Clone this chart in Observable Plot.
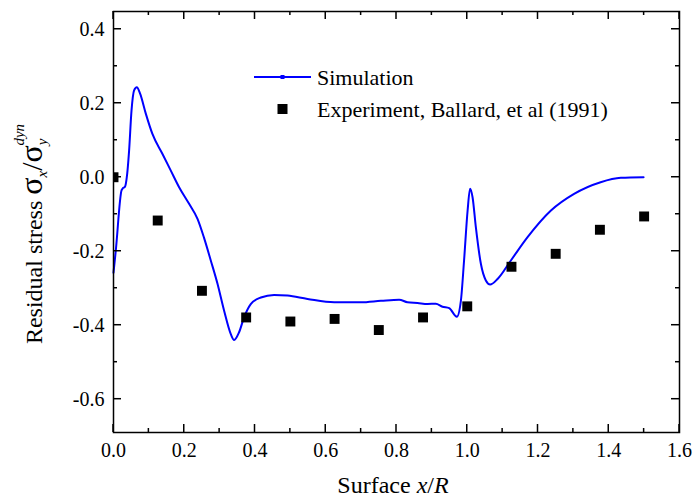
<!DOCTYPE html>
<html>
<head>
<meta charset="utf-8">
<script src="https://cdn.jsdelivr.net/npm/d3@7"></script>
<script src="https://cdn.jsdelivr.net/npm/@observablehq/plot@0.6"></script>
<style>
  html, body { margin: 0; padding: 0; background: #fff; }
  #chart { width: 694px; height: 499px; }
</style>
</head>
<body>
<div id="chart"></div>
<script>
// ---------- data ----------
const simX = [0.0, 0.0065, 0.0226, 0.0254, 0.0328, 0.0376, 0.0396, 0.0441, 0.0509, 0.0582, 0.0659, 0.0752, 0.0913, 0.110, 0.1385, 0.162, 0.1855, 0.2137, 0.2375, 0.256, 0.275, 0.294, 0.3127, 0.3316, 0.341, 0.355, 0.369, 0.388, 0.4165, 0.454, 0.492, 0.5485, 0.624, 0.699, 0.756, 0.8075, 0.831, 0.8595, 0.888, 0.911, 0.930, 0.949, 0.9706, 0.982, 0.991, 1.001, 1.008, 1.015, 1.0243, 1.0385, 1.0526, 1.0647, 1.0857, 1.1233, 1.1705, 1.2366, 1.302, 1.377, 1.4343, 1.4985];
const simY = [-0.258, -0.198, -0.036, -0.031, -0.025, 0.0, 0.018, 0.072, 0.18, 0.235, 0.2435, 0.226, 0.172, 0.117, 0.063, 0.018, -0.027, -0.072, -0.1126, -0.164, -0.225, -0.288, -0.361, -0.424, -0.44, -0.419, -0.379, -0.343, -0.325, -0.318, -0.320, -0.329, -0.338, -0.338, -0.334, -0.331, -0.338, -0.340, -0.3425, -0.342, -0.350, -0.354, -0.377, -0.334, -0.225, -0.090, -0.031, -0.054, -0.135, -0.234, -0.279, -0.290, -0.275, -0.225, -0.162, -0.090, -0.045, -0.0135, -0.0016, 0.0];

const expX = [0.0, 0.125, 0.25, 0.375, 0.5, 0.625, 0.75, 0.875, 1.0, 1.125, 1.25, 1.375, 1.5];
const expY = [0.0, -0.117, -0.307, -0.379, -0.390, -0.383, -0.413, -0.379, -0.349, -0.242, -0.207, -0.142, -0.106];

const xMajorTicks = [0.0, 0.2, 0.4, 0.6, 0.8, 1.0, 1.2, 1.4, 1.6];
const xMinorTicks = [0.1, 0.3, 0.5, 0.7, 0.9, 1.1, 1.3, 1.5];
const yMajorTicks = [-0.6, -0.4, -0.2, 0.0, 0.2, 0.4];
const yMinorTicks = [-0.5, -0.3, -0.1, 0.1, 0.3];

const seriesNames = ["Simulation", "Experiment, Ballard, et al (1991)"];

(function () {
// ---------- tables ----------
const sim = simX.map((x, i) => ({x, y: simY[i]}));
const exp = expX.map((x, i) => ({x, y: expY[i]}));

const FONT = "'Liberation Serif', 'Times New Roman', serif";
const fmt = d => d.toFixed(1);

const chart = Plot.plot({
  width: 694,
  height: 499,
  marginLeft: 113,
  marginRight: 15,
  marginTop: 11,
  marginBottom: 67,
  style: {fontSize: "20px", background: "#fff", color: "#000", overflow: "visible"},
  x: {domain: [0, 1.6]},
  y: {domain: [-0.69, 0.448]},
  marks: [
    Plot.axisX(xMajorTicks, {tickSize: 0, tickPadding: 10, tickFormat: fmt, label: null, fontSize: 20}),
    Plot.axisY(yMajorTicks, {tickSize: 0, tickPadding: 9, tickFormat: fmt, label: null, fontSize: 20}),
    Plot.line(sim, {x: "x", y: "y", stroke: "#0000ff", strokeWidth: 2, curve: "monotone-x"}),
    Plot.dot(exp, {x: "x", y: "y", symbol: "square", r: 5.6, fill: "#000", stroke: "none", clip: "frame"}),
    Plot.frame({stroke: "#000", strokeWidth: 1.5})
  ]
});

document.getElementById("chart").appendChild(chart);

const svg = d3.select(chart);
svg.attr("font-family", FONT).style("font-family", FONT);
svg.selectAll("g, text").attr("font-family", FONT).style("font-family", FONT);

// ---------- inward ticks on all four sides, via the plot's scales ----------
const sx = chart.scale("x"), sy = chart.scale("y");
const fL = 113, fR = 694 - 15, fT = 11, fB = 499 - 67;
const g = svg.append("g").attr("stroke", "#000").attr("stroke-width", 1.5);
function xt(vals, len) {
  vals.forEach(v => {
    const px = sx.apply(v);
    g.append("line").attr("x1", px).attr("x2", px).attr("y1", fB).attr("y2", fB - len);
    g.append("line").attr("x1", px).attr("x2", px).attr("y1", fT).attr("y2", fT + len);
  });
}
function yt(vals, len) {
  vals.forEach(v => {
    const py = sy.apply(v);
    g.append("line").attr("y1", py).attr("y2", py).attr("x1", fL).attr("x2", fL + len);
    g.append("line").attr("y1", py).attr("y2", py).attr("x1", fR).attr("x2", fR - len);
  });
}
xt(xMajorTicks, 8); xt(xMinorTicks, 4);
yt(yMajorTicks, 8); yt(yMinorTicks, 4);

// ---------- axis titles ----------
const xTitle = svg.append("text")
  .attr("x", 393).attr("y", 493)
  .attr("text-anchor", "middle")
  .style("font-family", FONT)
  .attr("font-size", 24).attr("fill", "#000");
xTitle.append("tspan").text("Surface ");
xTitle.append("tspan").attr("font-style", "italic").text("x");
xTitle.append("tspan").text("/");
xTitle.append("tspan").attr("font-style", "italic").text("R");

const yl = svg.append("text")
  .attr("transform", "translate(42,234) rotate(-90)")
  .attr("text-anchor", "middle")
  .style("font-family", FONT)
  .attr("font-size", 24).attr("fill", "#000");
yl.append("tspan").text("Residual stress ");
yl.append("tspan").attr("font-size", 32).text("σ");
yl.append("tspan").attr("font-size", 15).attr("font-style", "italic").attr("dy", 5).text("x");
yl.append("tspan").attr("font-size", 30).attr("dy", -5).text("/");
yl.append("tspan").attr("font-size", 32).text("σ");
yl.append("tspan").attr("font-size", 15).attr("font-style", "italic").attr("dy", 5).text("y");
yl.append("tspan").attr("font-size", 15).attr("font-style", "italic").attr("dx", -7).attr("dy", -23).text("dyn");

// ---------- legend ----------
const lg = svg.append("g").attr("font-size", 22).attr("fill", "#000").attr("text-anchor", "start")
  .style("font-family", FONT);
lg.append("line").attr("x1", 254).attr("x2", 311).attr("y1", 77).attr("y2", 77)
  .attr("stroke", "#0000ff").attr("stroke-width", 2);
lg.append("rect").attr("x", 280.5).attr("y", 75).attr("width", 4).attr("height", 4).attr("fill", "#0000ff");
lg.append("text").attr("x", 317).attr("y", 85).attr("text-anchor", "start").text(seriesNames[0]);
lg.append("rect").attr("x", 277.5).attr("y", 104).attr("width", 10).attr("height", 10).attr("fill", "#000");
lg.append("text").attr("x", 317).attr("y", 117).attr("text-anchor", "start").text(seriesNames[1]);
})();
</script>
</body>
</html>
